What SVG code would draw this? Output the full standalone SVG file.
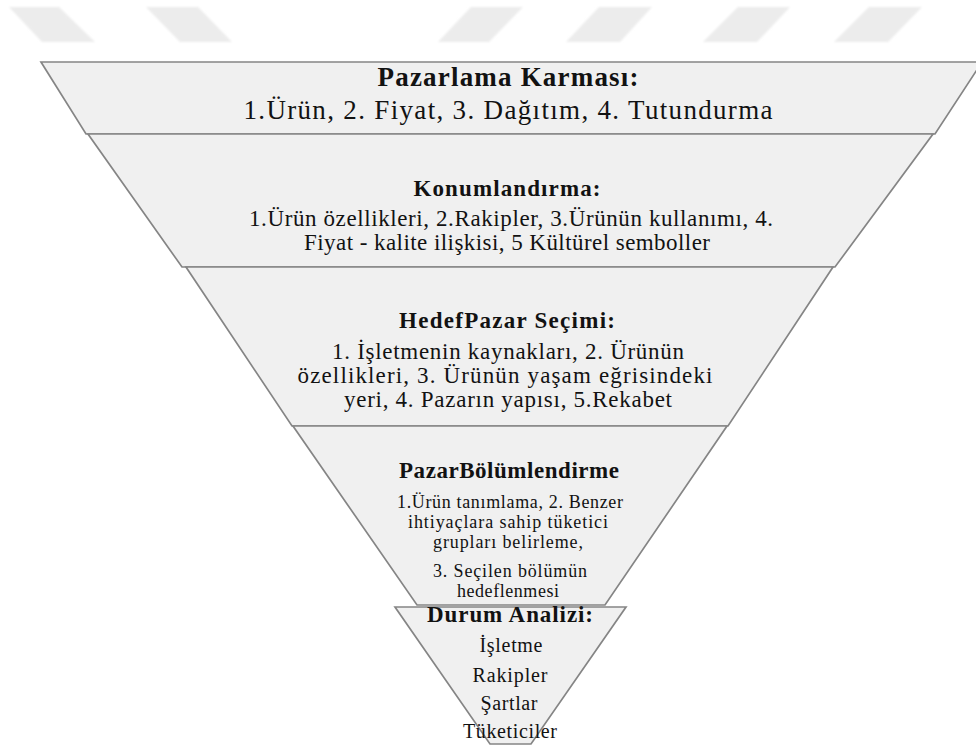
<svg xmlns="http://www.w3.org/2000/svg" width="976" height="747" viewBox="0 0 976 747">
<defs>
<filter id="soft" x="-10%" y="-20%" width="120%" height="140%"><feGaussianBlur stdDeviation="0.9"/></filter>
<style>
.wm{fill:#ececec;filter:url(#soft)}
.band{fill:#f0f0f0;stroke:#858585;stroke-width:1.7;stroke-linejoin:miter}
text{font-family:"Liberation Serif","Times New Roman",serif;fill:#121212;text-anchor:middle}
.b{font-weight:bold}
.t1{font-size:27px}
.t2{font-size:23px}
.t3{font-size:23px}
.t4{font-size:18px}
.t5{font-size:20px}
</style>
</defs>
<rect width="976" height="747" fill="#ffffff"/>
<g id="watermark">
<polygon class="wm" points="9,7 59,7 95,42 42,42"/>
<polygon class="wm" points="146,7 198,7 232,42 180,42"/>
<polygon class="wm" points="471,7 523,7 489,42 438,42"/>
<polygon class="wm" points="599,7 652,7 620,42 566,42"/>
<polygon class="wm" points="738,7 790,7 757,42 703,42"/>
<polygon class="wm" points="869,7 922,7 888,42 834,42"/>
</g>
<g id="connectors"/>
<g id="pazarlama-karmasi">
<polygon class="band" points="41,62 982,62 935,134 86,134"/>
<text class="b t1" x="508" y="86" textLength="261">Pazarlama Karması:</text>
<text class="t1" x="508" y="119" textLength="529">1.Ürün, 2. Fiyat, 3. Dağıtım, 4. Tutundurma</text>
</g>
<g id="konumlandirma">
<polygon class="band" points="88,134 933,134 835,267 182,267"/>
<text class="b t3" x="507" y="196" textLength="187">Konumlandırma:</text>
<text class="t2" x="511" y="226" textLength="524">1.Ürün özellikleri, 2.Rakipler, 3.Ürünün kullanımı, 4.</text>
<text class="t2" x="507" y="250" textLength="406">Fiyat - kalite ilişkisi, 5 Kültürel semboller</text>
</g>
<g id="hedef-pazar-secimi">
<polygon class="band" points="186,267 833,267 728,426 292,426"/>
<text class="b t3" x="507" y="328" textLength="216">HedefPazar Seçimi:</text>
<text class="t2" x="508" y="359" textLength="352">1. İşletmenin kaynakları, 2. Ürünün</text>
<text class="t2" x="505" y="383" textLength="415">özellikleri, 3. Ürünün yaşam eğrisindeki</text>
<text class="t2" x="508" y="407" textLength="328">yeri, 4. Pazarın yapısı, 5.Rekabet</text>
</g>
<g id="pazar-bolumlendirme">
<polygon class="band" points="293,426 727,426 605,605 417,605"/>
<text class="b t3" x="509" y="478" textLength="220">PazarBölümlendirme</text>
<text class="t4" x="510" y="508" textLength="226">1.Ürün tanımlama, 2. Benzer</text>
<text class="t4" x="508" y="528" textLength="200">ihtiyaçlara sahip tüketici</text>
<text class="t4" x="508" y="548" textLength="150">grupları belirleme,</text>
<text class="t4" x="510" y="577" textLength="154">3. Seçilen bölümün</text>
<text class="t4" x="508" y="597" textLength="102">hedeflenmesi</text>
</g>
<g id="durum-analizi">
<polygon class="band" points="395,607 626,607 531,744 490,744"/>
<text class="b t3" x="510" y="622" textLength="166">Durum Analizi:</text>
<text class="t5" x="511" y="652" textLength="63">İşletme</text>
<text class="t5" x="510" y="682" textLength="75">Rakipler</text>
<text class="t5" x="509" y="710" textLength="57">Şartlar</text>
<text class="t5" x="510" y="738" textLength="94">Tüketiciler</text>
</g>
</svg>
